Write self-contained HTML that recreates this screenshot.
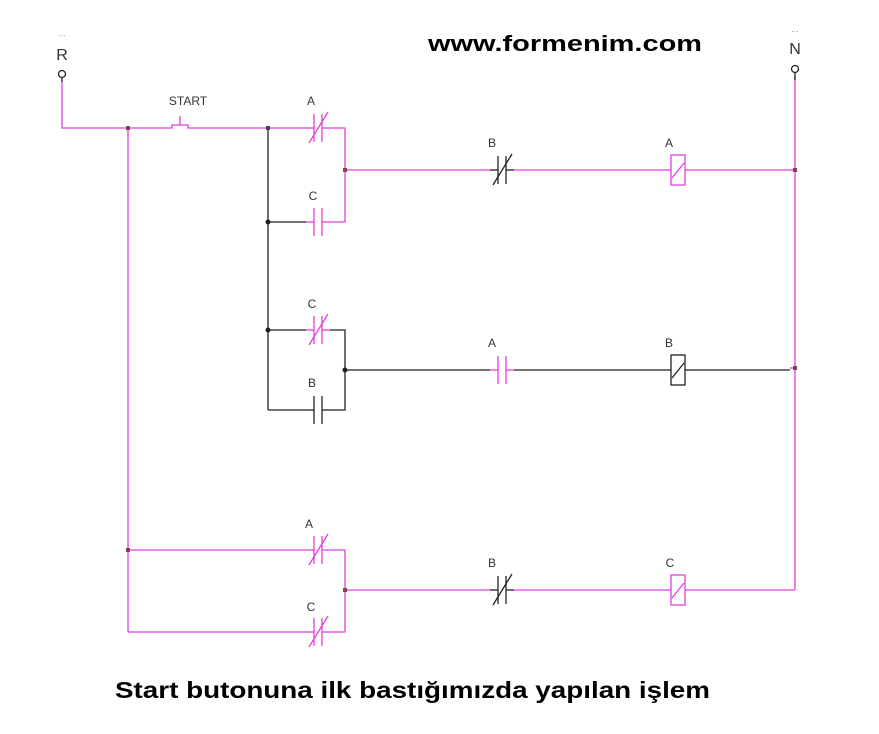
<!DOCTYPE html>
<html><head><meta charset="utf-8"><style>
html,body{margin:0;padding:0;background:#fff;}
svg{display:block;}
text{font-family:"Liberation Sans",Arial,sans-serif;}
</style></head><body>
<svg width="879" height="734" viewBox="0 0 879 734" xmlns="http://www.w3.org/2000/svg">
<defs>
<g id="no"><line x1="-12" y1="0" x2="-4" y2="0"/><line x1="4" y1="0" x2="12" y2="0"/><line x1="-4" y1="-14" x2="-4" y2="14"/><line x1="4" y1="-14" x2="4" y2="14"/></g>
<g id="nc"><line x1="-12" y1="0" x2="-4" y2="0"/><line x1="4" y1="0" x2="12" y2="0"/><line x1="-4" y1="-14" x2="-4" y2="14"/><line x1="4" y1="-14" x2="4" y2="14"/><line x1="-9" y1="15" x2="10" y2="-16"/></g>
<g id="coil"><line x1="-12" y1="0" x2="-7" y2="0"/><line x1="7" y1="0" x2="12" y2="0"/><rect x="-7" y="-15" width="14" height="30" fill="none"/><line x1="-6" y1="8" x2="6" y2="-7"/></g>
</defs>
<g fill="none" stroke-width="1.3">
<!-- pink wires -->
<g stroke="#e040e0">
<polyline points="62,80 62,128 166,128"/>
<polyline points="192,128 306,128"/>
<polyline points="330,128 345,128 345,222 330,222"/>
<line x1="128" y1="128" x2="128" y2="632"/>
<polyline points="345,170 490,170"/>
<line x1="514" y1="170" x2="666" y2="170"/>
<line x1="690" y1="170" x2="795" y2="170"/>
<line x1="795" y1="76" x2="795" y2="590"/>
<line x1="128" y1="550" x2="306" y2="550"/>
<line x1="128" y1="632" x2="306" y2="632"/>
<polyline points="330,550 345,550 345,632 330,632"/>
<line x1="345" y1="590" x2="490" y2="590"/>
<line x1="514" y1="590" x2="666" y2="590"/>
<polyline points="690,590 795,590"/>
<line x1="790" y1="368" x2="795" y2="368"/>
<!-- start button -->
<polyline points="166,128 172,128 172,125 188,125 188,128 192,128"/>
<line x1="180" y1="125" x2="180" y2="116"/>
<use href="#nc" x="318" y="128"/>
<use href="#no" x="318" y="222"/>
<use href="#coil" x="678" y="170"/>
<use href="#nc" x="318" y="330"/>
<use href="#no" x="502" y="370"/>
<use href="#nc" x="318" y="550"/>
<use href="#nc" x="318" y="632"/>
<use href="#coil" x="678" y="590"/>
</g>
<g stroke="#222">
<line x1="268" y1="128" x2="268" y2="410"/>
<line x1="268" y1="222" x2="306" y2="222"/>
<line x1="268" y1="330" x2="306" y2="330"/>
<polyline points="330,330 345,330 345,410 330,410"/>
<line x1="268" y1="410" x2="306" y2="410"/>
<line x1="345" y1="370" x2="490" y2="370"/>
<line x1="514" y1="370" x2="666" y2="370"/>
<line x1="690" y1="370" x2="790" y2="370"/>
<line x1="62" y1="74" x2="62" y2="82"/>
<line x1="795" y1="70" x2="795" y2="80"/>
<use href="#nc" x="502" y="170"/>
<use href="#no" x="318" y="410"/>
<use href="#coil" x="678" y="370"/>
<use href="#nc" x="502" y="590"/>
<circle cx="62" cy="74" r="3.5" fill="#fff"/>
<circle cx="795" cy="69" r="3.5" fill="#fff"/>
</g>
</g>
<g fill="#222">
<circle cx="268" cy="222" r="2.5"/><circle cx="268" cy="330" r="2.5"/><circle cx="345" cy="370" r="2.5"/>
<rect x="126" y="126" width="4" height="4" fill="#844"/><rect x="266" y="126" width="4" height="4" fill="#444"/>
<rect x="343" y="168" width="4" height="4" fill="#844"/><rect x="793" y="168" width="4" height="4" fill="#844"/>
<rect x="793" y="366" width="4" height="4" fill="#844"/><rect x="126" y="548" width="4" height="4" fill="#844"/>
<rect x="343" y="588" width="4" height="4" fill="#844"/>
</g>
<g fill="#333" font-size="12">
<text x="62" y="36" text-anchor="middle" fill="#999" font-size="9">...</text>
<text x="62" y="60" text-anchor="middle" font-size="16">R</text>
<text x="795" y="32" text-anchor="middle" fill="#999" font-size="9">...</text>
<text x="795" y="54" text-anchor="middle" font-size="16">N</text>
<text x="188" y="105" text-anchor="middle">START</text>
<text x="311" y="105" text-anchor="middle">A</text>
<text x="313" y="200" text-anchor="middle">C</text>
<text x="492" y="147" text-anchor="middle">B</text>
<text x="669" y="147" text-anchor="middle">A</text>
<text x="312" y="308" text-anchor="middle">C</text>
<text x="312" y="387" text-anchor="middle">B</text>
<text x="492" y="347" text-anchor="middle">A</text>
<text x="669" y="347" text-anchor="middle">B</text>
<text x="309" y="528" text-anchor="middle">A</text>
<text x="311" y="611" text-anchor="middle">C</text>
<text x="492" y="567" text-anchor="middle">B</text>
<text x="670" y="567" text-anchor="middle">C</text>
</g>
<text x="428" y="51" font-size="22" font-weight="bold" fill="#000" textLength="274" lengthAdjust="spacingAndGlyphs">www.formenim.com</text>
<text x="115" y="698" font-size="23" font-weight="bold" fill="#000" textLength="595" lengthAdjust="spacingAndGlyphs">Start butonuna ilk bastığımızda yapılan işlem</text>
</svg>
</body></html>
